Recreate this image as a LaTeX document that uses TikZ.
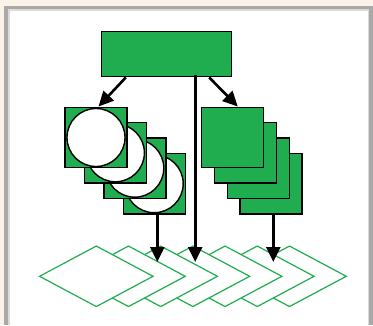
\documentclass[tikz,border=0pt]{standalone}
\usepackage{tikz}
\usetikzlibrary{positioning,shapes.geometric,arrows.meta,calc}
\definecolor{boxgreen}{HTML}{1FAD50}
\definecolor{pagebeige}{HTML}{FBF3E8}
\definecolor{framegray}{HTML}{A9A9A9}
\definecolor{framelight}{HTML}{DEDBD3}
\begin{document}
\begin{tikzpicture}[x=1pt,y=-1pt]
\tikzset{B/.style={rectangle,draw=black,fill=boxgreen,line width=1.4pt,inner sep=0pt}}
\tikzset{S/.style={B,minimum width=62pt,minimum height=60.5pt}}
\tikzset{O/.style={circle,draw=black,fill=white,line width=1.4pt,inner sep=0pt,minimum size=58pt}}
\tikzset{D/.style={diamond,draw=boxgreen,fill=white,line width=1.2pt,inner sep=0pt,minimum width=114pt,minimum height=61pt}}
\tikzset{A/.style={-{Triangle[length=15pt,width=14pt]},line width=2.6pt}}

  % page and frame
  \useasboundingbox (0,0) rectangle (373,325);
  \fill[pagebeige] (0,0) rectangle (373,325);
  \fill[framegray] (4,6) rectangle (373,325);
  \fill[framelight] (8,9) rectangle (369,325);
  \fill[white] (9.5,10.5) rectangle (367.5,325);

  % row of diamonds, the left one on top
  \node[D] (d7) at (289.5,276.3) {};
  \node[D] (d6) at (257.3,276.3) {};
  \node[D] (d5) at (225.1,276.3) {};
  \node[D] (d4) at (192.9,276.3) {};
  \node[D] (d3) at (160.7,276.3) {};
  \node[D] (d2) at (128.5,276.3) {};
  \node[D] (d1) at (96.3,276.3)  {};

  % left stack: squares with circles
  \node[S] (lsq4) at (154.2,183.7) {};
  \node[O] (lc4)  at (154.2,183.7) {};
  \node[S] (lsq3) at (134.8,168.2) {};
  \node[O] (lc3)  at (134.8,168.2) {};
  \node[S] (lsq2) at (115.4,152.8) {};
  \node[O] (lc2)  at (115.4,152.8) {};
  \node[S] (lsq1) at (96,137.5)    {};
  \node[O] (lc1)  at (96,137.5)    {};

  % right stack
  \node[S] (rsq4) at (271,183.7)   {};
  \node[S] (rsq3) at (258.3,168.2) {};
  \node[S] (rsq2) at (245.3,152.8) {};
  \node[S] (rsq1) at (232.3,137.5) {};

  % top box
  \node[B,minimum width=130pt,minimum height=45.5pt] (top) at (166.5,54) {};

  \coordinate (ltip) at (157.3,262);
  \coordinate (mtip) at (195.2,262);
  \coordinate (rtip) at (273.3,262);

  \draw[A] ($(top.south west)+(25,0)$) -- ($(lsq1.north)+(2.5,0)$);
  \draw[A] ($(top.south east)+(-23,0)$) -- ($(rsq1.north)+(5.5,0)$);
  \draw[A] ($(top.south)+(28.7,-2)$) -- (mtip);
  \draw[A] ($(lsq4.south)+(3.1,0)$) -- (ltip);
  \draw[A] ($(rsq4.south)+(2.3,0)$) -- (rtip);
\end{tikzpicture}
\end{document}
